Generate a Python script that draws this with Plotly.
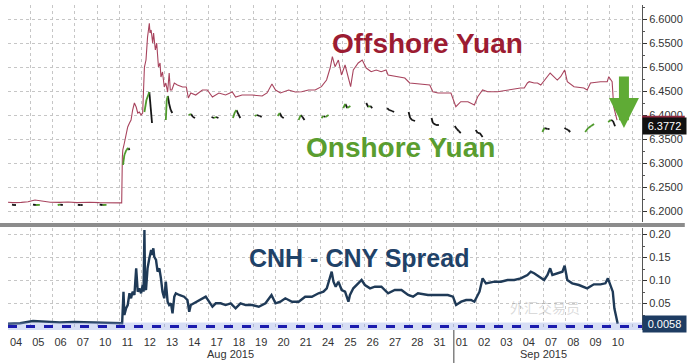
import plotly.graph_objects as go

# ---------------- data ----------------
DAY_LABELS = ["04", "05", "06", "07", "10", "11", "12", "13", "14", "17", "18", "19", "20", "21",
              "24", "25", "26", "27", "28", "31", "01", "02", "03", "04", "07", "08", "09", "10"]
MONTHS = ["Aug 2015", "Sep 2015"]
MONTH_START_DAY = [0, 20]
MONTH_END_DAY = [20, 28]

# Offshore yuan (CNH); x = trading-day position (day index + fraction of day)
CNH_T = [0.00, 0.22, 0.60, 0.90, 1.21, 1.50, 1.90, 2.32, 2.70, 3.10, 3.66, 4.10, 4.55, 5.10,
         5.13, 5.15, 5.22, 5.30, 5.37, 5.45, 5.52, 5.59, 5.67, 5.75, 5.82, 5.89, 5.97, 6.04,
         6.12, 6.19, 6.26, 6.34, 6.37, 6.42, 6.49, 6.53, 6.61, 6.67, 6.75, 6.82, 6.86, 6.93,
         7.01, 7.08, 7.16, 7.23, 7.28, 7.35, 7.46, 7.60, 7.83, 8.00, 8.09, 8.20, 8.42, 8.72,
         8.94, 9.17, 9.46, 9.76, 10.06, 10.21, 10.50, 10.95, 11.40, 11.62, 11.84, 12.00, 12.22, 12.59,
         12.89, 13.17, 13.48, 13.78, 14.06, 14.29, 14.45, 14.55, 14.67, 14.82, 14.96, 15.12, 15.27, 15.37,
         15.49, 15.71, 15.89, 16.07, 16.29, 16.52, 16.74, 16.96, 17.05, 17.50, 17.80, 18.02, 18.69, 18.92,
         19.06, 19.29, 19.87, 20.09, 20.31, 20.63, 20.92, 21.07, 21.29, 21.52, 21.96, 22.41, 22.54, 22.99,
         23.16, 23.30, 23.38, 23.60, 23.75, 23.90, 24.32, 24.49, 24.64, 24.79, 24.97, 25.09, 25.39, 25.83,
         25.98, 26.13, 26.58, 26.88, 26.95, 27.10, 27.17, 27.32]
CNH_V = [6.2190, 6.2180, 6.2185, 6.2200, 6.2235, 6.2210, 6.2190, 6.2185, 6.2195, 6.2180, 6.2190, 6.2180, 6.2175, 6.2175,
         6.3131, 6.3277, 6.3423, 6.3631, 6.3756, 6.3840, 6.3902, 6.4110, 6.4256, 6.4173, 6.4048, 6.4069, 6.4006, 6.4048,
         6.5006, 6.5152, 6.5631, 6.5917, 6.5715, 6.5777, 6.5506, 6.5715, 6.5360, 6.5506, 6.5006, 6.5090, 6.4798, 6.4902,
         6.4590, 6.4673, 6.4485, 6.4881, 6.4527, 6.4527, 6.4673, 6.4631, 6.4590, 6.4590, 6.4360, 6.4465, 6.4423, 6.4527,
         6.4527, 6.4381, 6.4465, 6.4423, 6.4485, 6.4381, 6.4423, 6.4423, 6.4402, 6.4465, 6.4652, 6.4527, 6.4465, 6.4527,
         6.4485, 6.4492, 6.4527, 6.4527, 6.4596, 6.4735, 6.4985, 6.5221, 6.5013, 6.5152, 6.4840, 6.5048, 6.4804, 6.4596,
         6.4944, 6.5090, 6.5152, 6.4985, 6.4908, 6.4944, 6.4908, 6.4944, 6.4840, 6.4804, 6.4777, 6.4673, 6.4631, 6.4631,
         6.4492, 6.4465, 6.4465, 6.4179, 6.4283, 6.4283, 6.4215, 6.4388, 6.4527, 6.4492, 6.4492, 6.4527, 6.4527, 6.4569,
         6.4569, 6.4673, 6.4700, 6.4673, 6.4673, 6.4631, 6.4881, 6.4804, 6.4735, 6.4804, 6.4944, 6.4700, 6.4596, 6.4569,
         6.4527, 6.4673, 6.4700, 6.4700, 6.4804, 6.4700, 6.4179, 6.3902]

# Onshore yuan (CNY): one short session per trading day
ONSHORE_T = [
    [0.18, 0.27, 0.36], [1.12, 1.25, 1.43], [2.23, 2.34, 2.46], [3.13, 3.24, 3.35], [4.11, 4.25, 4.42],
    [5.16, 5.22, 5.31, 5.40, 5.45], [6.12, 6.21, 6.29, 6.34, 6.41, 6.46], [7.08, 7.12, 7.17, 7.23, 7.30, 7.37],
    [8.10, 8.21, 8.30, 8.39], [9.13, 9.24, 9.33, 9.44], [10.09, 10.18, 10.25, 10.33, 10.42],
    [11.07, 11.16, 11.29, 11.38], [12.10, 12.19, 12.28, 12.37], [13.04, 13.13, 13.21, 13.30],
    [14.06, 14.15, 14.24, 14.38], [15.04, 15.13, 15.22, 15.36], [16.07, 16.16, 16.25, 16.34],
    [17.01, 17.10, 17.23, 17.32], [17.97, 18.04, 18.13, 18.26], [19.00, 19.06, 19.20, 19.33],
    [20.04, 20.13, 20.22, 20.31], [20.98, 21.07, 21.16, 21.29], [23.97, 24.06, 24.20, 24.29],
    [24.96, 25.04, 25.13, 25.22], [25.89, 26.03, 26.16, 26.29], [26.92, 27.05, 27.14, 27.23],
]
ONSHORE_V = [
    [6.2140, 6.2131, 6.2131], [6.2140, 6.2131, 6.2135], [6.2131, 6.2140, 6.2131], [6.2135, 6.2131, 6.2131],
    [6.2140, 6.2131, 6.2135],
    [6.2965, 6.3173, 6.3277, 6.3319, 6.3277], [6.4069, 6.4319, 6.4423, 6.4485, 6.4110, 6.3840],
    [6.3902, 6.4319, 6.4402, 6.4235, 6.4110, 6.4048],
    [6.4006, 6.4027, 6.3965, 6.3944], [6.3965, 6.3944, 6.3965, 6.3944], [6.3944, 6.4069, 6.4110, 6.4027, 6.3944],
    [6.3985, 6.4006, 6.3985, 6.3965], [6.3985, 6.4048, 6.3965, 6.3944], [6.3902, 6.4006, 6.3965, 6.3902],
    [6.3944, 6.3985, 6.3965, 6.4006], [6.4152, 6.4235, 6.4152, 6.4194], [6.4256, 6.4173, 6.4194, 6.4152],
    [6.4152, 6.4110, 6.4090, 6.4069], [6.4069, 6.3944, 6.3902, 6.3881], [6.3944, 6.3840, 6.3798, 6.3798],
    [6.3777, 6.3715, 6.3673, 6.3631], [6.3694, 6.3631, 6.3631, 6.3548], [6.3652, 6.3735, 6.3715, 6.3715],
    [6.3735, 6.3715, 6.3694, 6.3652], [6.3652, 6.3735, 6.3777, 6.3819], [6.3860, 6.3902, 6.3881, 6.3772],
]
ONSHORE_LAST = 6.3772

# CNH - CNY spread
SPREAD_T = [0.00, 0.54, 1.12, 1.65, 2.32, 2.99, 3.66, 4.33, 5.12, 5.18, 5.22, 5.30, 5.37, 5.45,
            5.52, 5.59, 5.67, 5.75, 5.82, 5.89, 5.97, 6.04, 6.08, 6.12, 6.15, 6.19, 6.26, 6.34,
            6.42, 6.46, 6.52, 6.56, 6.64, 6.71, 6.79, 6.86, 6.93, 7.01, 7.08, 7.16, 7.23, 7.31,
            7.38, 7.46, 7.53, 7.68, 7.90, 8.05, 8.13, 8.20, 8.35, 8.57, 8.72, 8.87, 9.02, 9.17,
            9.32, 9.54, 9.76, 9.99, 10.21, 10.43, 10.66, 10.95, 11.25, 11.55, 11.82, 12.00, 12.22, 12.44,
            12.74, 13.04, 13.33, 13.63, 13.93, 14.15, 14.30, 14.52, 14.60, 14.70, 14.82, 14.97, 15.12, 15.27,
            15.34, 15.49, 15.71, 15.86, 16.01, 16.24, 16.46, 16.75, 17.05, 17.35, 17.65, 17.95, 18.17, 18.39,
            18.84, 19.29, 19.73, 19.96, 20.10, 20.33, 20.55, 20.77, 20.92, 21.15, 21.29, 21.44, 21.82, 22.11,
            22.41, 22.71, 23.00, 23.30, 23.45, 23.60, 23.83, 24.05, 24.20, 24.32, 24.42, 24.64, 24.87, 24.97,
            25.09, 25.31, 25.61, 25.98, 26.28, 26.58, 26.80, 26.91, 27.02, 27.13, 27.20, 27.29, 27.35]
SPREAD_V = [0.0060, 0.0070, 0.0120, 0.0100, 0.0090, 0.0100, 0.0090, 0.0080, 0.0070, 0.0757, 0.0250, 0.0396, 0.0467, 0.0722,
            0.0613, 0.0757, 0.0685, 0.1265, 0.0757, 0.0830, 0.0722, 0.0902, 0.0757, 0.2098, 0.0830, 0.0793, 0.1265, 0.1483,
            0.1663, 0.1554, 0.1700, 0.1517, 0.1446, 0.1191, 0.1265, 0.1048, 0.0757, 0.0613, 0.0974, 0.0539, 0.0467, 0.0504,
            0.0287, 0.0648, 0.0722, 0.0685, 0.0648, 0.0576, 0.0322, 0.0467, 0.0504, 0.0576, 0.0613, 0.0648, 0.0539, 0.0430,
            0.0504, 0.0504, 0.0467, 0.0504, 0.0396, 0.0504, 0.0467, 0.0467, 0.0430, 0.0504, 0.0685, 0.0504, 0.0539, 0.0613,
            0.0539, 0.0539, 0.0648, 0.0648, 0.0722, 0.0757, 0.0830, 0.1191, 0.0974, 0.0865, 0.0974, 0.0793, 0.0757, 0.0539,
            0.0685, 0.0830, 0.0939, 0.1011, 0.0902, 0.0830, 0.0865, 0.0865, 0.0722, 0.0793, 0.0793, 0.0685, 0.0648, 0.0722,
            0.0685, 0.0685, 0.0685, 0.0648, 0.0467, 0.0539, 0.0576, 0.0576, 0.0539, 0.0757, 0.1048, 0.0939, 0.0974, 0.0974,
            0.1011, 0.1011, 0.1048, 0.1120, 0.1191, 0.1157, 0.1083, 0.1011, 0.1120, 0.1265, 0.1120, 0.1157, 0.1191, 0.1322,
            0.1011, 0.0939, 0.0902, 0.0830, 0.0917, 0.0917, 0.0939, 0.1048, 0.0902, 0.0757, 0.0396, 0.0178, 0.0058]
SPREAD_LAST = 0.0058
SPREAD_BASE = 0.0

TOP_TICKS = [6.20, 6.25, 6.30, 6.35, 6.40, 6.45, 6.50, 6.55, 6.60]
BOT_TICKS = [0.05, 0.10, 0.15, 0.20]

# ---------------- styling ----------------
FONT = "Liberation Sans, Arial, sans-serif"
GRID = "#c6c6c6"
X_RANGE = [0, 28.44]
N_DAYS = len(DAY_LABELS)

fig = go.Figure()

fig.add_trace(go.Scatter(x=CNH_T, y=CNH_V, mode="lines", xaxis="x", yaxis="y",
                         line=dict(color="#a8445e", width=1.1), showlegend=False))

# onshore: green for up-moves, black for down-moves
gx, gy, kx, ky = [], [], [], []
for ts, vs in zip(ONSHORE_T, ONSHORE_V):
    for i in range(len(ts) - 1):
        if vs[i + 1] > vs[i]:
            gx += [ts[i], ts[i + 1], None]; gy += [vs[i], vs[i + 1], None]
        else:
            kx += [ts[i], ts[i + 1], None]; ky += [vs[i], vs[i + 1], None]
fig.add_trace(go.Scatter(x=kx, y=ky, mode="lines", xaxis="x", yaxis="y",
                         line=dict(color="#161616", width=1.8), showlegend=False))
fig.add_trace(go.Scatter(x=gx, y=gy, mode="lines", xaxis="x", yaxis="y",
                         line=dict(color="#4f9a2c", width=1.8), showlegend=False))

fig.add_trace(go.Scatter(x=SPREAD_T, y=SPREAD_V, mode="lines", xaxis="x2", yaxis="y2",
                         line=dict(color="#1f3a57", width=2.4), showlegend=False))

minor_x = dict(tickmode="array", tickvals=list(range(N_DAYS + 1)), showgrid=True,
               gridcolor=GRID, griddash="dot", gridwidth=1, ticks="")
label_pos = [k + 0.36 for k in range(N_DAYS)]

yax_common = dict(side="right", showgrid=True, gridcolor=GRID, griddash="dot", gridwidth=1,
                  ticks="outside", ticklen=4, tickcolor="#333", tickwidth=1,
                  showline=True, linecolor="#555", linewidth=1, zeroline=False,
                  tickfont=dict(family=FONT, size=11, color="#333"))

fig.update_layout(
    width=688, height=363,
    margin=dict(l=8, r=43, t=5, b=33),
    paper_bgcolor="white", plot_bgcolor="white",
    xaxis=dict(domain=[0, 1], anchor="y", range=X_RANGE, tickmode="array", tickvals=label_pos,
               showticklabels=False, ticks="", showgrid=False, zeroline=False, minor=minor_x),
    xaxis2=dict(domain=[0, 1], anchor="y2", range=X_RANGE, tickmode="array", tickvals=label_pos,
                ticktext=DAY_LABELS, ticks="", showgrid=False, zeroline=False, minor=minor_x,
                ticklabelstandoff=4,
                tickfont=dict(family=FONT, size=11, color="#333"), showline=False),
    yaxis=dict(domain=[0.3323, 1], anchor="x", range=[6.1777, 6.6298], tickmode="array",
               tickvals=TOP_TICKS, ticktext=[f"{v:.4f}" for v in TOP_TICKS],
               minor=dict(tickmode="linear", tick0=6.175, dtick=0.05, ticks="outside", ticklen=2,
                          tickcolor="#555", showgrid=False),
               **yax_common),
    yaxis2=dict(domain=[0, 0.3138], anchor="x2", range=[-0.0076, 0.2141], tickmode="array",
                tickvals=BOT_TICKS, ticktext=[f"{v:.2f}" for v in BOT_TICKS],
                minor=dict(tickmode="linear", tick0=0.025, dtick=0.05, ticks="outside", ticklen=2,
                           tickcolor="#555", showgrid=False),
                **yax_common),
)

shapes = []
# gray separator between panels
shapes.append(dict(type="line", xref="paper", yref="paper", x0=-0.0126, x1=1.0675, y0=0.323, y1=0.323,
                   line=dict(color="#8c8c8c", width=4)))
# blue dashed baseline in spread panel (glow + dash)
shapes.append(dict(type="line", xref="paper", yref="y2", x0=0, x1=1, y0=SPREAD_BASE, y1=SPREAD_BASE,
                   line=dict(color="rgba(140,160,225,0.35)", width=8)))
shapes.append(dict(type="line", xref="paper", yref="y2", x0=0, x1=1, y0=SPREAD_BASE, y1=SPREAD_BASE,
                   line=dict(color="#1c1cae", width=3, dash="dash")))
# month separator
shapes.append(dict(type="line", xref="x2", yref="paper", x0=MONTH_START_DAY[1], x1=MONTH_START_DAY[1],
                   y0=0, y1=-0.1015, line=dict(color="#444", width=1)))
# maroon strip of the hidden CNH last-value tag
shapes.append(dict(type="rect", xref="paper", yref="y", x0=1.0, x1=1.0675, y0=6.3946, y1=6.3990,
                   fillcolor="#8e2a40", line=dict(width=0)))
fig.update_layout(shapes=shapes)

ann = []
ann.append(dict(text="<b>Offshore Yuan</b>", x=18.8, y=6.5506, xref="x", yref="y", showarrow=False,
                font=dict(family=FONT, size=28, color="#9c1c32")))
ann.append(dict(text="<b>Onshore Yuan</b>", x=17.59, y=6.3319, xref="x", yref="y", showarrow=False,
                font=dict(family=FONT, size=28, color="#5a9d2f")))
ann.append(dict(text="<b>CNH - CNY Spread</b>", x=15.74, y=0.149, xref="x2", yref="y2", showarrow=False,
                font=dict(family=FONT, size=25, color="#1f4268")))
ann.append(dict(text=f"{ONSHORE_LAST:.4f}", x=1.0, y=ONSHORE_LAST, xref="paper", yref="y",
                xanchor="left", showarrow=False, bgcolor="#111111", borderpad=2,
                font=dict(family=FONT, size=11, color="white"), width=39))
ann.append(dict(text=f"{SPREAD_LAST:.4f}", x=1.0, y=SPREAD_LAST, xref="paper", yref="y2",
                xanchor="left", showarrow=False, bgcolor="#1e3c62", borderpad=2,
                font=dict(family=FONT, size=11, color="white"), width=39))
# green down arrow
ann.append(dict(text="", x=27.63, y=6.3735, xref="x", yref="y", showarrow=True, ax=0, ay=-53,
                arrowcolor="#5fab35", arrowwidth=10, arrowhead=2, arrowsize=0.6, standoff=0))
# month labels
for name, s, e in zip(MONTHS, MONTH_START_DAY, MONTH_END_DAY):
    ann.append(dict(text=name, x=(s + e) / 2, y=-0.074, xref="x2", yref="paper", showarrow=False,
                    yanchor="middle", font=dict(family=FONT, size=11, color="#333")))
# faint watermark
ann.append(dict(text="外汇交易员", x=0.905, y=0.035, xref="paper", yref="paper", showarrow=False,
                font=dict(family="Noto Sans CJK SC", size=14, color="rgba(150,150,150,0.35)")))
fig.update_layout(annotations=ann)

fig.write_html("out.html")
